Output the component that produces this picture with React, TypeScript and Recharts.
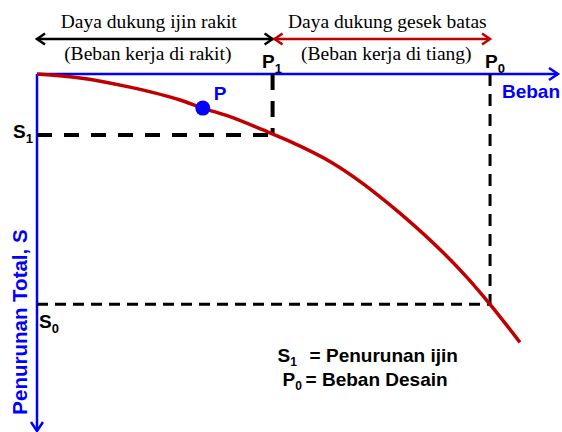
import React from 'react';
import { ComposedChart, Line, XAxis, YAxis, ReferenceLine, ReferenceDot } from 'recharts';

// load (Beban) vs total settlement (Penurunan); P0 and S0 are 100
const loads = [0, 9.5, 20.5, 31.6, 36.6, 42.6, 49.9, 55.2, 65.3, 80.1, 94.9, 100, 106.6];
const settlements = [0, 1.7, 5.7, 11.3, 14.8, 18.5, 24.3, 28.7, 38.7, 60.4, 88.3, 100, 116.5];

const P1 = 52;
const P0 = 100;
const S1 = 26.5;
const S0 = 100;
const pointP = { load: 36.6, settle: 14.8 };

const headerLeft = ['Daya dukung ijin rakit', '(Beban kerja di rakit)'];
const headerRight = ['Daya dukung gesek batas', '(Beban kerja di tiang)'];
const legendLines = [
  { sym: 'S', sub: '1', text: '= Penurunan ijin' },
  { sym: 'P', sub: '0', text: '= Beban Desain' },
];
const axisTitleX = 'Beban';
const axisTitleY = 'Penurunan Total, S';

const LOAD_MAX = 115;
const SETTLE_MAX = 155;
const ARROW_Y = -15.2; // header arrows sit above the load axis

const BLUE = '#0000ff';
const RED = '#c00000';
const SANS = '"Liberation Sans", Arial, sans-serif';
const SERIF = '"Liberation Serif", "Times New Roman", serif';

const curveData = loads.map((p, i) => ({ p, s: settlements[i] }));

// chevron arrow heads, pointing in direction dir
const chevron = (dir: 'left' | 'right' | 'down', color: string, w = 2.5, len = 8, half = 5.5) => (props: any) => {
  const { cx, cy } = props;
  let d = '';
  if (dir === 'right') d = `M${cx - len},${cy - half} L${cx},${cy} L${cx - len},${cy + half}`;
  if (dir === 'left') d = `M${cx + len},${cy - half} L${cx},${cy} L${cx + len},${cy + half}`;
  if (dir === 'down') d = `M${cx - half},${cy - len} L${cx},${cy} L${cx + half},${cy - len}`;
  return <path d={d} fill="none" stroke={color} strokeWidth={w} />;
};

const subText = (dx: number, dy: number, sym: string, sub: string, color = '#000', size = 19) => (props: any) => (
  <text x={props.cx + dx} y={props.cy + dy} fill={color} fontFamily={SANS} fontWeight="bold" fontSize={size}>
    {sym}
    <tspan fontSize={13} dy={5}>{sub}</tspan>
  </text>
);

const plainText = (dx: number, dy: number, value: string, opts: any = {}) => (props: any) => (
  <text x={props.cx + dx} y={props.cy + dy} fill="#000" fontFamily={SANS} fontWeight="bold" fontSize={19} {...opts}>
    {value}
  </text>
);

const headerText = (dx: number, lines: string[]) => (props: any) => (
  <g fontFamily={SERIF} fontSize={19.5} fill="#000" textAnchor="middle">
    <text x={props.cx + dx} y={props.cy - 46}>{lines[0]}</text>
    <text x={props.cx + dx - 1} y={props.cy - 14}>{lines[1]}</text>
  </g>
);

const legendText = (props: any) => (
  <g fontFamily={SANS} fontWeight="bold" fontSize={19} fill="#000">
    {legendLines.map((l, i) => (
      <text key={l.sym} x={props.cx + 5 + i * 5} y={props.cy + 58 + i * 24}>
        {l.sym}
        <tspan fontSize={12} dy={4}>{l.sub}</tspan>
        <tspan x={props.cx + 37 - i * 4} dy={-4}>{l.text}</tspan>
      </text>
    ))}
  </g>
);

const yTitle = (props: any) => (
  <text
    x={props.cx - 10}
    y={props.cy - 109}
    transform={`rotate(-90, ${props.cx - 10}, ${props.cy - 109})`}
    textAnchor="middle"
    fill={BLUE}
    fontFamily={SANS}
    fontWeight="bold"
    fontSize={20.5}
  >
    {axisTitleY}
  </text>
);

export default function App() {
  return (
    <div style={{ position: 'absolute', left: 0, top: 0, width: 562, height: 432, background: '#fff' }}>
      <ComposedChart width={562} height={432} data={curveData} margin={{ top: 74, right: 4, bottom: 1, left: 37 }}>
        <XAxis type="number" dataKey="p" domain={[0, LOAD_MAX]} hide />
        <YAxis type="number" reversed domain={[0, SETTLE_MAX]} hide />

        {/* axes drawn from the origin */}
        <ReferenceLine segment={[{ x: 0, y: 0 }, { x: LOAD_MAX, y: 0 }]} stroke={BLUE} strokeWidth={2.5} ifOverflow="visible" />
        <ReferenceLine segment={[{ x: 0, y: 0 }, { x: 0, y: SETTLE_MAX }]} stroke={BLUE} strokeWidth={2.5} ifOverflow="visible" />

        {/* dashed guides */}
        <ReferenceLine segment={[{ x: 0, y: S1 }, { x: P1, y: S1 }]} stroke="#000" strokeWidth={4} strokeDasharray="15 12" ifOverflow="visible" />
        <ReferenceLine segment={[{ x: P1, y: 0 }, { x: P1, y: S1 }]} stroke="#000" strokeWidth={4} strokeDasharray="16 11" ifOverflow="visible" />
        <ReferenceLine segment={[{ x: 0, y: S0 }, { x: P0, y: S0 }]} stroke="#000" strokeWidth={3} strokeDasharray="11 7" ifOverflow="visible" />
        <ReferenceLine segment={[{ x: P0, y: 0 }, { x: P0, y: S0 }]} stroke="#000" strokeWidth={3} strokeDasharray="12 8" ifOverflow="visible" />

        {/* header range arrows */}
        <ReferenceLine segment={[{ x: 0, y: ARROW_Y }, { x: P1, y: ARROW_Y }]} stroke="#000" strokeWidth={2.5} ifOverflow="visible" />
        <ReferenceLine segment={[{ x: P1, y: ARROW_Y }, { x: P0, y: ARROW_Y }]} stroke={RED} strokeWidth={2.5} ifOverflow="visible" />
        <ReferenceDot x={0} y={ARROW_Y} ifOverflow="visible" shape={chevron('left', '#000')} />
        <ReferenceDot x={P1} y={ARROW_Y} ifOverflow="visible" shape={chevron('right', '#000')} />
        <ReferenceDot x={P1} y={ARROW_Y} ifOverflow="visible" shape={(p: any) => chevron('left', RED)({ cx: p.cx + 2, cy: p.cy })} />
        <ReferenceDot x={P0} y={ARROW_Y} ifOverflow="visible" shape={chevron('right', RED)} />

        <Line
          type="monotone"
          dataKey="s"
          stroke={RED}
          strokeWidth={3.5}
          dot={false}
          activeDot={false}
          isAnimationActive={false}
        />

        {/* axis arrow heads */}
        <ReferenceDot x={LOAD_MAX} y={0} ifOverflow="visible" shape={chevron('right', BLUE, 2.5, 9, 6)} />
        <ReferenceDot x={0} y={SETTLE_MAX} ifOverflow="visible" shape={chevron('down', BLUE, 2.5, 9, 6)} />

        <ReferenceDot x={pointP.load} y={pointP.settle} r={7.5} fill={BLUE} stroke="none" ifOverflow="visible" />

        {/* labels */}
        <ReferenceDot x={P1 / 2} y={0} ifOverflow="visible" shape={headerText(-6, headerLeft)} />
        <ReferenceDot x={(P1 + P0) / 2} y={0} ifOverflow="visible" shape={headerText(6, headerRight)} />
        <ReferenceDot x={P1} y={0} ifOverflow="visible" shape={subText(-10.5, -6, 'P', '1')} />
        <ReferenceDot x={P0} y={0} ifOverflow="visible" shape={subText(-5, -6, 'P', '0')} />
        <ReferenceDot x={0} y={S1} ifOverflow="visible" shape={subText(-24, 3, 'S', '1')} />
        <ReferenceDot x={0} y={S0} ifOverflow="visible" shape={subText(2, 24, 'S', '0')} />
        <ReferenceDot x={LOAD_MAX} y={0} ifOverflow="visible" shape={plainText(2, 24, axisTitleX, { fill: BLUE, textAnchor: 'end' })} />
        <ReferenceDot x={pointP.load} y={pointP.settle} ifOverflow="visible" shape={plainText(11, -8, 'P', { fill: BLUE })} />
        <ReferenceDot x={P1} y={S0} ifOverflow="visible" shape={legendText} />
        <ReferenceDot x={0} y={SETTLE_MAX} ifOverflow="visible" shape={yTitle} />
      </ComposedChart>
    </div>
  );
}
